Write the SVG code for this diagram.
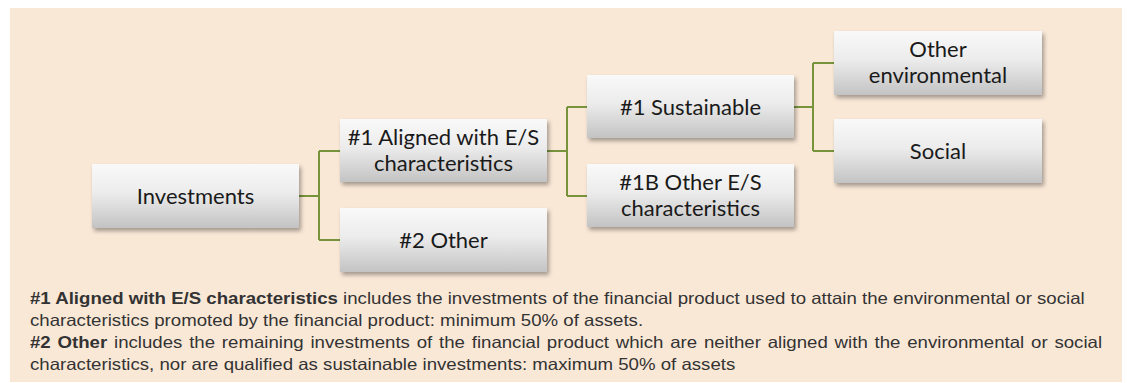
<svg xmlns="http://www.w3.org/2000/svg" width="1127" height="383" viewBox="0 0 1127 383">
<defs>
<linearGradient id="g" x1="0" y1="0" x2="0" y2="1">
<stop offset="0" stop-color="#f9f9f9"/>
<stop offset="0.45" stop-color="#ececec"/>
<stop offset="1" stop-color="#c3c3c3"/>
</linearGradient>
<filter id="sh" x="-10%" y="-20%" width="125%" height="150%">
<feDropShadow dx="2" dy="3" stdDeviation="2" flood-color="#000" flood-opacity="0.35"/>
</filter>
</defs>
<style>
.n{fill:url(#g);filter:url(#sh)}
.t{font-family:Lato,"Open Sans",sans-serif;font-size:22px;fill:#1a1a1a;text-anchor:middle}
.c{fill:none;stroke:#77933c;stroke-width:2}
.f{font-family:"Liberation Sans",Arial,sans-serif;font-size:16.5px;fill:#333}
.b{font-weight:bold}
</style>
<rect x="10" y="8" width="1112" height="374" fill="#fae8d7"/>
<g id="connectors">
<path class="c" d="M299 196H319M319 151V240M319 151H340M319 240H340"/>
<path class="c" d="M547 151H567M567 107V196M567 107H587M567 196H587"/>
<path class="c" d="M794 107H813M813 63V151M813 63H834M813 151H834"/>
</g>
<g id="investments"><rect class="n" x="92" y="164" width="207" height="64"/><text class="t" x="195.5" y="204">Investments</text></g>
<g id="aligned"><rect class="n" x="340" y="119" width="207" height="63"/><text class="t" x="443.5" y="145">#1 Aligned with E/S</text><text class="t" x="443.5" y="171">characteristics</text></g>
<g id="other2"><rect class="n" x="340" y="208" width="207" height="64"/><text class="t" x="443.5" y="248">#2 Other</text></g>
<g id="sustainable"><rect class="n" x="587" y="75" width="207" height="63"/><text class="t" x="690.5" y="115">#1 Sustainable</text></g>
<g id="other1b"><rect class="n" x="587" y="164" width="207" height="63"/><text class="t" x="690.5" y="190">#1B Other E/S</text><text class="t" x="690.5" y="216">characteristics</text></g>
<g id="otherenv"><rect class="n" x="834" y="31" width="208" height="64"/><text class="t" x="938" y="57">Other</text><text class="t" x="938" y="83">environmental</text></g>
<g id="social"><rect class="n" x="834" y="119" width="208" height="64"/><text class="t" x="938" y="159">Social</text></g>
<g id="footer" transform="translate(30,0) scale(1.13,1)">
<text class="f" x="0" y="304"><tspan class="b">#1 Aligned with E/S characteristics</tspan> includes the investments of the financial product used to attain the environmental or social</text>
<text class="f" x="0" y="326">characteristics promoted by the financial product: minimum 50% of assets.</text>
<text class="f" x="0" y="348" word-spacing="1.43"><tspan class="b">#2 Other</tspan> includes the remaining investments of the financial product which are neither aligned with the environmental or social</text>
<text class="f" x="0" y="370">characteristics, nor are qualified as sustainable investments: maximum 50% of assets</text>
</g>
</svg>
